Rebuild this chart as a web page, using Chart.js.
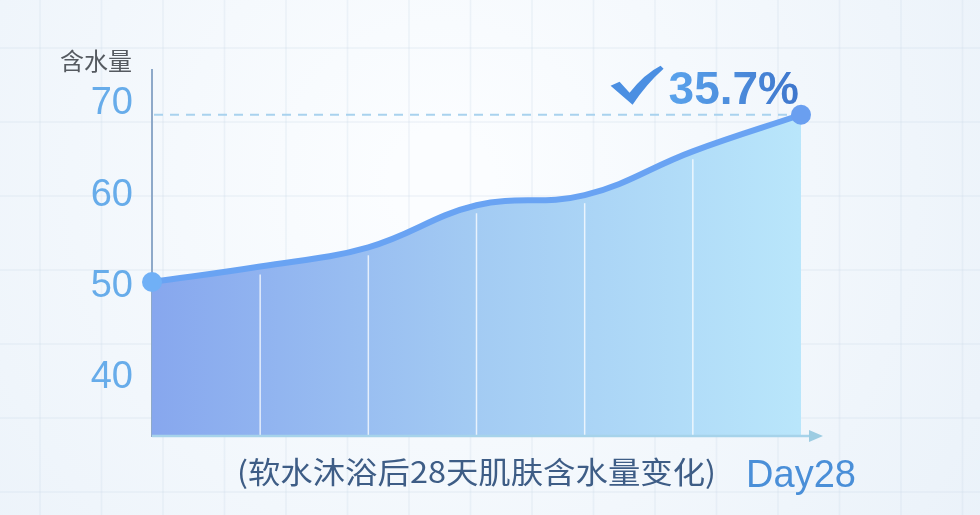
<!DOCTYPE html>
<html>
<head>
<meta charset="utf-8">
<script src="https://cdn.jsdelivr.net/npm/chart.js@4.4.1/dist/chart.umd.min.js"></script>
<style>
  html, body { margin: 0; padding: 0; background: #f3f7fb; }
  #wrap { width: 980px; height: 515px; position: relative; }
</style>
</head>
<body>
<div id="wrap"><canvas id="myChart" width="980" height="515"></canvas></div>
<script>
// chart data
const xLabels = ['', '', '', '', '', '', 'Day28'];
const moisture = [50.5, 52.2, 54.3, 58.9, 60.0, 64.8, 68.8];
const yTicks = [40, 50, 60, 70];
const yTitle = '含水量';
const caption = '(软水沐浴后28天肌肤含水量变化)';
const gainText = '35.7%';

// background with a faint grid
const backdrop = {
    id: 'backdrop',
    beforeDraw(chart) {
        const c = chart.ctx, w = chart.width, h = chart.height;
        c.save();
        const g = c.createRadialGradient(w * 0.45, h * 0.35, 50, w * 0.45, h * 0.35, w * 0.7);
        g.addColorStop(0, '#fbfdff');
        g.addColorStop(1, '#e9f1f9');
        c.fillStyle = g;
        c.fillRect(0, 0, w, h);
        c.strokeStyle = 'rgba(205,220,235,0.28)';
        c.lineWidth = 1.5;
        for (let x = 40; x < w; x += 61.5) {
            c.beginPath(); c.moveTo(x, 0); c.lineTo(x, h); c.stroke();
        }
        for (let y = 48; y < h; y += 74) {
            c.beginPath(); c.moveTo(0, y); c.lineTo(w, y); c.stroke();
        }
        c.restore();
    }
};

// extras: white dividers in the fill, dashed target line, arrow axis, texts
const extras = {
    id: 'extras',
    afterDatasetsDraw(chart) {
        const c = chart.ctx, area = chart.chartArea;
        const pts = chart.getDatasetMeta(0).data;
        c.save();

        // white dividers under the curve
        c.strokeStyle = 'rgba(255,255,255,0.75)';
        c.lineWidth = 1.5;
        for (let i = 1; i < pts.length - 1; i++) {
            c.beginPath();
            c.moveTo(pts[i].x, pts[i].y + 8);
            c.lineTo(pts[i].x, area.bottom);
            c.stroke();
        }

        // dashed line at the last value
        const last = pts[pts.length - 1];
        c.strokeStyle = '#a9d2ee';
        c.lineWidth = 2;
        c.setLineDash([9, 7]);
        c.beginPath();
        c.moveTo(area.left + 2, last.y);
        c.lineTo(last.x - 8, last.y);
        c.stroke();
        c.setLineDash([]);

        // x axis with arrow
        c.strokeStyle = '#a6d3ea';
        c.lineWidth = 2.5;
        c.beginPath();
        c.moveTo(area.left, area.bottom);
        c.lineTo(area.right + 12, area.bottom);
        c.stroke();
        c.fillStyle = '#9ccce2';
        c.beginPath();
        c.moveTo(area.right + 8, area.bottom - 6);
        c.lineTo(area.right + 22, area.bottom);
        c.lineTo(area.right + 8, area.bottom + 6);
        c.closePath();
        c.fill();

        // y title
        c.fillStyle = '#555a60';
        c.font = '24px "Noto Sans CJK SC"';
        c.textAlign = 'right';
        c.textBaseline = 'middle';
        c.fillText(yTitle, area.left - 20, area.top - 9);

        // caption, slightly stretched like the original lettering
        c.save();
        c.fillStyle = '#3e5d86';
        c.font = '30px "Noto Sans CJK SC"';
        c.textAlign = 'center';
        c.translate((area.left + area.right) / 2, area.bottom + 36);
        c.scale(1.08, 1);
        c.fillText(caption, 0, 0);
        c.restore();

        // gain label with check mark
        c.font = 'bold 46px "Liberation Sans", Arial';
        c.textAlign = 'right';
        c.textBaseline = 'alphabetic';
        const right = last.x - 2, base = last.y - 11;
        const tw = c.measureText(gainText).width;
        const tg = c.createLinearGradient(right - tw, 0, right, 0);
        tg.addColorStop(0, '#5aa3ec');
        tg.addColorStop(1, '#3e76cc');
        c.fillStyle = tg;
        c.fillText(gainText, right, base);

        const cx = right - tw - 6;
        c.fillStyle = '#4b8fe2';
        c.beginPath();
        c.moveTo(cx - 52, base - 18);
        c.lineTo(cx - 43, base - 22);
        c.lineTo(cx - 33, base - 11);
        c.quadraticCurveTo(cx - 18, base - 30, cx - 2, base - 38);
        c.lineTo(cx + 1, base - 35);
        c.quadraticCurveTo(cx - 16, base - 20, cx - 30, base + 1);
        c.closePath();
        c.fill();

        c.restore();
    }
};

const ctx = document.getElementById('myChart').getContext('2d');
const chart = new Chart(ctx, {
    type: 'line',
    data: {
        labels: xLabels,
        datasets: [{
            data: moisture,
            borderColor: '#69a3f3',
            borderWidth: 6,
            tension: 0.4,
            fill: 'start',
            clip: false,
            backgroundColor: function (context) {
                const a = context.chart.chartArea;
                if (!a) return '#a0c4f2';
                const g = context.chart.ctx.createLinearGradient(a.left, 0, a.right, 0);
                g.addColorStop(0, '#87a7ee');
                g.addColorStop(0.5, '#a3cbf3');
                g.addColorStop(1, '#b9e6fb');
                return g;
            },
            pointRadius: function (context) {
                const i = context.dataIndex;
                return (i === 0 || i === moisture.length - 1) ? 10 : 0;
            },
            pointBackgroundColor: function (context) {
                return context.dataIndex === 0 ? '#70b0f6' : '#6a9ff0';
            },
            pointBorderWidth: 0,
            pointHoverRadius: 10
        }]
    },
    options: {
        responsive: false,
        animation: false,
        layout: { padding: { top: 70, right: 179, left: 0, bottom: 0 } },
        plugins: { legend: { display: false }, tooltip: { enabled: false } },
        scales: {
            x: {
                grid: { display: false, drawTicks: false },
                border: { display: false },
                ticks: {
                    autoSkip: false,
                    maxRotation: 0,
                    padding: 18,
                    color: '#4a8fd8',
                    font: { size: 38, family: '"Liberation Sans", Arial' }
                },
                afterFit: function (scale) { scale.height = 79; }
            },
            y: {
                min: 33.65,
                max: 73.7,
                grid: { display: false, drawTicks: false },
                border: { display: true, color: '#8ea9c9', width: 2 },
                afterBuildTicks: function (scale) {
                    scale.ticks = yTicks.map(v => ({ value: v }));
                },
                ticks: {
                    padding: 19,
                    color: '#67acea',
                    font: { size: 38, family: '"Liberation Sans", Arial' }
                },
                afterFit: function (scale) { scale.width = 152; }
            }
        }
    },
    plugins: [backdrop, extras]
});
</script>
</body>
</html>
